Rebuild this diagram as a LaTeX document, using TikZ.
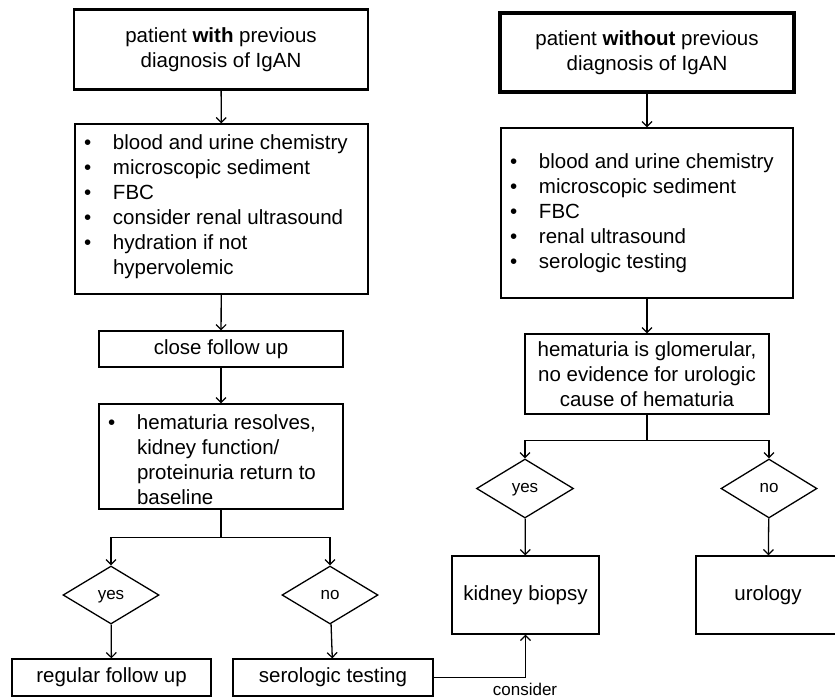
\documentclass[tikz,border=0pt]{standalone}
\usepackage{fontspec}
\setmainfont{Liberation Sans}
\usetikzlibrary{arrows.meta,shapes.geometric}
\newcommand\bitem[1]{\makebox[29pt][l]{\textbullet}#1}
\newcommand\bcont[1]{\hspace*{29pt}#1}
\newcommand\mainfs{\fontsize{20.5}{25}\selectfont}
\newcommand\smallfs{\fontsize{17}{20}\selectfont}
\begin{document}
\begin{tikzpicture}[x=1pt,y=-1pt,
  box/.style={draw, rectangle, line width=1.3pt, inner sep=0pt, font=\mainfs, align=center},
  dec/.style={draw, diamond, line width=1.3pt, inner sep=0pt, font=\smallfs, text height=8.8pt, text depth=0pt},
  arr/.style={line width=1.3pt, -{Straight Barb[length=5pt,width=10pt,line width=1.2pt]}},
  conn/.style={line width=1.3pt}]
\useasboundingbox (0,0) rectangle (835,697);
\clip (0,0) rectangle (835,697);
\fill[white] (0,0) rectangle (835,697);
% left column
\node[box, line width=2.4pt, minimum width=294pt, minimum height=80pt] (topL) at (221,49.5)
  {patient \textbf{with} previous\\diagnosis of IgAN};
\node[box, minimum width=293pt, minimum height=170pt] (listL) at (221.5,209)
  {\begin{minipage}{275pt}\raggedright
   \bitem{blood and urine chemistry}\\
   \bitem{microscopic sediment}\\
   \bitem{FBC}\\
   \bitem{consider renal ultrasound}\\
   \bitem{hydration if not}\\
   \bcont{hypervolemic}\par\vspace{4pt}
   \end{minipage}};
\node[box, minimum width=244pt, minimum height=36pt] (cfu) at (221,349) {close follow up};
\node[box, minimum width=244pt, minimum height=105pt] (res) at (221,456.5)
  {\begin{minipage}{226pt}\raggedright\vspace*{7pt}
   \bitem{hematuria resolves,}\\
   \bcont{kidney function/}\\
   \bcont{proteinuria return to}\\
   \bcont{baseline}
   \end{minipage}};
\node[dec, minimum width=96pt, minimum height=58pt] (dyesL) at (111,595) {yes};
\node[dec, minimum width=96pt, minimum height=58pt] (dnoL) at (330,595) {no};
\node[box, minimum width=199pt, minimum height=37pt] (reg) at (111.5,677.5) {regular follow up};
\node[box, minimum width=200pt, minimum height=37pt] (sero) at (333,677.5) {serologic testing};
% right column
\node[box, line width=3.5pt, minimum width=294pt, minimum height=79pt] (topR) at (647,52.5)
  {patient \textbf{without} previous\\diagnosis of IgAN};
\node[box, minimum width=292pt, minimum height=170pt] (listR) at (647,213)
  {\begin{minipage}{274pt}\raggedright
   \bitem{blood and urine chemistry}\\
   \bitem{microscopic sediment}\\
   \bitem{FBC}\\
   \bitem{renal ultrasound}\\
   \bitem{serologic testing}
   \end{minipage}};
\node[box, minimum width=244pt, minimum height=80pt] (glom) at (647,374)
  {hematuria is glomerular,\\no evidence for urologic\\cause of hematuria};
\node[dec, minimum width=97pt, minimum height=59pt] (dyesR) at (525,488.5) {yes};
\node[dec, minimum width=96pt, minimum height=59pt] (dnoR) at (769,488.5) {no};
\node[box, minimum width=147pt, minimum height=78pt] (kb) at (525.5,595) {kidney biopsy};
\node[box, minimum width=144pt, minimum height=78pt] (uro) at (768,595) {urology};
\node[font=\smallfs, inner sep=0pt] (consider) at (525,689) {consider};
% connectors
\draw[arr] (topL) -- (listL);
\draw[arr] (listL) -- (cfu);
\draw[arr] (cfu) -- (res);
\draw[arr] (res.south) -- ++(0,28) -| (dyesL.north);
\draw[arr] (res.south) -- ++(0,28) -| (dnoL.north);
\draw[arr] (dyesL) -- (reg);
\draw[arr] (dnoL) -- (sero);
\draw[arr] (sero.east) -| (kb.south);
\draw[arr] (topR) -- (listR);
\draw[arr] (listR) -- (glom);
\draw[arr] (glom.south) -- ++(0,26) -| (dyesR.north);
\draw[arr] (glom.south) -- ++(0,26) -| (dnoR.north);
\draw[arr] (dyesR) -- (kb);
\draw[arr] (dnoR) -- (uro);
\end{tikzpicture}
\end{document}
